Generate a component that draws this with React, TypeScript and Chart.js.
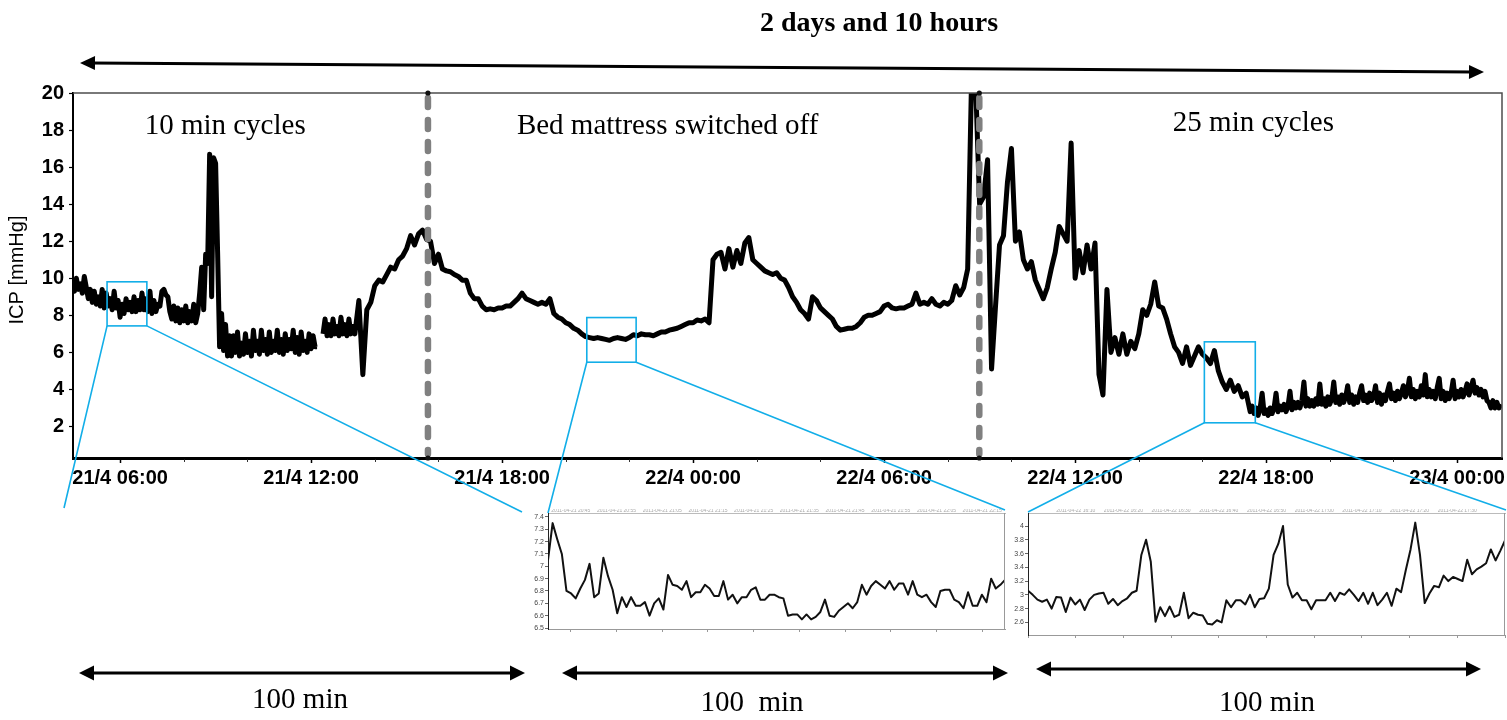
import React, { useEffect, useRef } from "react";
import { Chart, registerables } from "chart.js";

Chart.register(...registerables);

const PAGE_W = 1507;
const PAGE_H = 720;
const SANS = '"Liberation Sans", Arial, sans-serif';
const SERIF = '"Liberation Serif", "Times New Roman", serif';
Chart.defaults.font.family = SANS;

// ---------------- main ICP trace (hours after 21/4 00:00) ----------------
// segment A: 10 min cycles, sampled every 3.75 min
const icpSegAStart = 4.5;
const icpSegAStep = 0.0625;
const icpSegAValues = [
  9.6, 9.3, 10.0, 9.4, 9.7, 9.2, 10.1, 9.5, 8.9, 9.4, 8.7, 9.3, 8.6, 9.0, 8.5, 9.4,
  8.4, 9.2, 8.5, 8.9, 8.3, 9.3, 8.4, 8.8, 7.9, 8.6, 8.1, 8.9, 8.3, 8.7, 8.2, 9.0,
  8.2, 8.8, 8.3, 9.2, 8.3, 8.9, 8.2, 9.3, 8.1, 8.8, 8.2, 8.6, 8.5, 9.3, 9.4, 9.1,
  9.0, 8.2, 7.8, 8.5, 7.7, 8.4, 7.6, 8.3, 7.7, 8.5, 7.6, 8.2, 7.7, 8.6, 7.6, 8.1,
  9.2, 10.6, 8.3, 11.3, 10.8, 16.7, 9.0, 16.5, 16.2, 11.4, 6.3, 8.1, 6.1, 7.5, 5.8, 6.9,
  5.8, 6.9, 6.0, 7.1, 5.8, 6.5, 5.9, 7.0, 6.0, 6.6, 5.8, 7.2, 6.1, 6.6, 5.9, 7.2,
  6.1, 6.7, 5.9, 7.1, 6.0, 6.6, 6.1, 7.2, 6.0, 6.7, 5.9, 7.0, 6.1, 6.7, 6.2, 7.2,
  6.0, 6.8, 5.9, 7.1, 6.1, 6.6, 6.0, 7.0, 6.2, 6.9, 6.3, 6.3,
];
// (data gap 12.2 h – 12.37 h)
// segment B1: after the gap, still 10 min cycles
const icpSegB1Start = 12.375;
const icpSegB1Step = 0.0625;
const icpSegB1Values = [
  7.0, 7.8, 6.9, 7.5, 6.9, 7.8, 7.0, 7.4, 6.9, 7.9, 7.0, 7.5, 6.9, 7.8, 7.0, 7.4, 7.0,
];
// segment B2: mattress switched off and start of 25 min cycles, sampled every 7.5 min
const icpSegB2Start = 13.5;
const icpSegB2Step = 0.125;
const icpSegB2Values = [
  8.8, 4.8, 8.3, 8.7, 9.6, 9.9, 9.8, 10.2,
  10.6, 10.5, 11.0, 11.2, 11.6, 12.3, 11.8, 12.4,
  12.6, 12.1, 12.0, 10.8, 11.3, 10.5, 10.4, 10.35,
  10.2, 10.1, 9.9, 9.9, 9.2, 8.9, 8.9, 8.5,
  8.3, 8.35, 8.3, 8.4, 8.4, 8.5, 8.5, 8.7,
  8.9, 9.2, 8.9, 8.8, 8.7, 8.6, 8.7, 8.6,
  8.9, 8.1, 7.9, 7.8, 7.6, 7.5, 7.3, 7.2,
  7.0, 6.85, 6.8, 6.75, 6.8, 6.75, 6.7, 6.65,
  6.75, 6.8, 6.75, 6.7, 6.8, 6.95, 6.9, 7.0,
  6.95, 6.95, 6.9, 7.0, 7.1, 7.1, 7.2, 7.25,
  7.3, 7.4, 7.5, 7.6, 7.6, 7.75, 7.7, 7.8,
  7.6, 11.0, 11.3, 11.4, 10.5, 11.6, 10.6, 11.5,
  10.8, 11.9, 12.2, 11.0, 10.8, 10.6, 10.4, 10.3,
  10.2, 10.3, 10.0, 9.9, 9.5, 9.0, 8.7, 8.3,
  8.1, 7.8, 9.0, 8.8, 8.4, 8.2, 8.0, 7.8,
  7.4, 7.2, 7.25, 7.3, 7.3, 7.4, 7.6, 7.9,
  8.0, 8.0, 8.1, 8.2, 8.5, 8.6, 8.4, 8.35,
  8.4, 8.4, 8.5, 8.6, 9.2, 8.6, 8.7, 8.6,
  8.9, 8.6, 8.5, 8.7, 8.6, 8.8, 9.6, 9.1,
  9.5, 10.5, 21, 20.5, 14.0, 14.4, 16.4, 5.1,
  8.5, 11.8, 12.3, 15.2, 17.0, 12.0, 12.5, 11.0,
  10.5, 10.9, 9.9, 9.4, 8.9, 9.5, 10.5, 11.4,
  12.8, 12.4, 12.0, 17.3, 10.0, 11.5, 10.3, 11.8,
  10.5, 11.9, 4.8, 3.7, 9.4, 6.0, 6.8, 5.9,
  7.0, 5.9, 6.6, 6.2, 7.0, 8.3, 8.0, 8.6,
  9.8, 8.5, 8.4, 7.8, 7.0, 6.3, 6.0, 5.4,
  6.3, 5.3, 5.8, 6.3, 5.9, 5.7, 5.4, 6.1,
  5.0, 4.4, 4.0, 4.5, 3.9, 4.2, 3.6, 3.8,
];
// segment C: 25 min cycles at low ICP, sampled every 3.75 min
const icpSegCStart = 41.5;
const icpSegCStep = 0.0625;
const icpSegCValues = [
  2.8, 3.1, 2.7, 3.0, 2.6, 3.0, 3.8, 2.7, 2.9, 2.6, 3.0, 2.7, 3.0, 3.8, 2.8, 3.1,
  2.9, 3.2, 2.8, 3.1, 3.9, 2.9, 3.3, 3.0, 3.3, 3.0, 3.4, 4.4, 3.1, 3.5, 3.1, 3.4,
  3.1, 3.5, 3.2, 4.3, 3.2, 3.5, 3.1, 3.6, 3.2, 3.5, 4.4, 3.3, 3.6, 3.2, 3.7, 3.3,
  3.6, 4.2, 3.3, 3.7, 3.2, 3.6, 3.3, 3.8, 4.2, 3.4, 3.7, 3.3, 3.8, 3.4, 3.6, 4.2,
  3.3, 3.8, 3.2, 3.7, 3.4, 3.9, 4.3, 3.5, 3.8, 3.4, 3.9, 3.5, 3.8, 4.2, 3.6, 3.9,
  4.6, 3.6, 4.0, 3.5, 3.9, 3.6, 4.2, 3.7, 4.8, 3.6, 4.0, 3.6, 3.9, 3.5, 4.1, 4.6,
  3.5, 3.9, 3.4, 3.8, 3.5, 3.8, 4.5, 3.5, 3.9, 3.6, 4.0, 3.6, 3.9, 4.3, 3.7, 4.1,
  4.5, 3.8, 4.1, 3.7, 4.0, 3.6, 3.9, 3.4, 3.3, 3.0, 3.4, 3.0, 3.3, 3.0, 3.2,
];

const xAxisMinHour = 4.52;
const xAxisMaxHour = 49.41;
const xMajorHours = [6, 12, 18, 24, 30, 36, 42, 48];
const xMajorLabels = [
  "21/4 06:00", "21/4 12:00", "21/4 18:00", "22/4 00:00",
  "22/4 06:00", "22/4 12:00", "22/4 18:00", "23/4 00:00",
];
const xMinorHours = [8, 10, 14, 16, 20, 22, 26, 28, 32, 34, 38, 40, 44, 46];
const yAxisMin = 0.3;
const yAxisMax = 20;
const yTickValues = [2, 4, 6, 8, 10, 12, 14, 16, 18, 20];
const yAxisTitle = "ICP [mmHg]";

const phaseBoundaryHours = [15.67, 32.99];
const phaseLabels = ["10 min cycles", "Bed mattress switched off", "25 min cycles"];
const phaseLabelHours = [9.3, 23.2, 41.6];
const phaseLabelValues = [17.8, 17.8, 17.95];

const zoomBoxStartHours = [5.59, 20.66, 40.06];
const zoomBoxEndHours = [6.84, 22.21, 41.66];
const zoomBoxLowValues = [7.43, 5.47, 2.2];
const zoomBoxHighValues = [9.81, 7.88, 6.57];

const titleText = "2 days and 10 hours";
const spanLabels = ["100 min", "100  min", "100 min"];

// ---------------- inset 1 (bed mattress switched off) ----------------
const insetSpanMinutes = 100;
const inset1Values = [
  7.05, 7.35, 7.22, 7.1, 6.8, 6.78, 6.74, 6.82, 6.89, 7.02,
  6.75, 6.78, 7.07, 6.92, 6.81, 6.62, 6.75, 6.67, 6.75, 6.68,
  6.68, 6.71, 6.6, 6.7, 6.74, 6.65, 6.93, 6.85, 6.84, 6.81,
  6.88, 6.75, 6.79, 6.79, 6.85, 6.82, 6.76, 6.76, 6.88, 6.73,
  6.77, 6.7, 6.75, 6.75, 6.81, 6.83, 6.73, 6.73, 6.77, 6.77,
  6.75, 6.74, 6.6, 6.61, 6.61, 6.57, 6.61, 6.57, 6.59, 6.63,
  6.73, 6.6, 6.59, 6.64, 6.67, 6.7, 6.66, 6.71, 6.85, 6.77,
  6.84, 6.88, 6.85, 6.82, 6.88, 6.81, 6.86, 6.86, 6.77, 6.88,
  6.77, 6.75, 6.77, 6.71, 6.67, 6.8, 6.81, 6.81, 6.73, 6.71,
  6.66, 6.79, 6.68, 6.68, 6.77, 6.71, 6.9, 6.82, 6.85, 6.89,
];
const inset1YMin = 6.492;
const inset1YMax = 7.432;
const inset1YTicks = [6.5, 6.6, 6.7, 6.8, 6.9, 7.0, 7.1, 7.2, 7.3, 7.4];
const inset1TickMinutes = [5, 15, 25, 35, 45, 55, 65, 75, 85, 95];
const inset1TimeLabels = [
  "2011-04-21 20:45", "2011-04-21 20:55", "2011-04-21 21:05", "2011-04-21 21:15",
  "2011-04-21 21:25", "2011-04-21 21:35", "2011-04-21 21:45", "2011-04-21 21:55",
  "2011-04-21 22:05", "2011-04-21 22:15",
];

// ---------------- inset 2 (25 min cycles) ----------------
const inset2Values = [
  3.06, 3.0, 2.93, 2.9, 2.93, 2.8, 2.97, 2.96, 2.75, 2.96,
  2.86, 2.93, 2.78, 2.93, 3.0, 3.02, 3.03, 2.87, 2.94, 2.85,
  2.91, 2.95, 3.03, 3.06, 3.58, 3.8, 3.48, 2.61, 2.82, 2.69,
  2.83, 2.68, 2.71, 3.03, 2.66, 2.74, 2.71, 2.7, 2.58, 2.57,
  2.63, 2.6, 2.92, 2.82, 2.92, 2.92, 2.86, 3.0, 2.82, 2.94,
  2.95, 3.09, 3.58, 3.74, 4.0, 3.15, 2.96, 3.03, 2.92, 2.92,
  2.79, 2.92, 2.92, 2.92, 3.03, 2.91, 3.03, 3.0, 3.08, 3.0,
  2.91, 3.03, 2.87, 3.03, 2.85, 2.93, 3.03, 2.84, 3.09, 3.04,
  3.36, 3.66, 4.05, 3.58, 2.88, 3.02, 3.13, 3.11, 3.28, 3.2,
  3.26, 3.23, 3.2, 3.51, 3.3, 3.37, 3.41, 3.46, 3.66, 3.5,
  3.64, 3.79,
];
const inset2YMin = 2.416;
const inset2YMax = 4.19;
const inset2YTicks = [2.6, 2.8, 3.0, 3.2, 3.4, 3.6, 3.8, 4.0];
const inset2TickMinutes = [0, 10, 20, 30, 40, 50, 60, 70, 80, 90, 100];
const inset2LabelMinutes = [10, 20, 30, 40, 50, 60, 70, 80, 90];
const inset2TimeLabels = [
  "2011-04-22 16:10", "2011-04-22 16:20", "2011-04-22 16:30", "2011-04-22 16:40",
  "2011-04-22 16:50", "2011-04-22 17:00", "2011-04-22 17:10", "2011-04-22 17:20",
  "2011-04-22 17:30",
];

// ---------------- layout (pixels) ----------------
const MAIN_AREA = { left: 73, top: 93, right: 1502, bottom: 458 };
const INSET1_AREA = { left: 548, top: 513, right: 1005, bottom: 629 };
const INSET2_AREA = { left: 1028, top: 513, right: 1505, bottom: 635 };
const CONNECTOR_TARGETS = [
  [[64, 508], [522, 512]],
  [[548, 513], [1005, 510]],
  [[1028, 512], [1506, 510]],
];
const ZOOM_BLUE = "#12aee8";

function fmtNum(v: number) {
  return String(Math.round(v * 100) / 100);
}

function segmentPoints(start: number, step: number, values: number[]) {
  return values.map((v, i) => ({ x: start + i * step, y: v }));
}

function buildIcpPoints() {
  const a = segmentPoints(icpSegAStart, icpSegAStep, icpSegAValues);
  const lastA = a[a.length - 1].x;
  const gap = { x: (lastA + icpSegB1Start) / 2, y: null as any };
  return [
    ...a,
    gap,
    ...segmentPoints(icpSegB1Start, icpSegB1Step, icpSegB1Values),
    ...segmentPoints(icpSegB2Start, icpSegB2Step, icpSegB2Values),
    ...segmentPoints(icpSegCStart, icpSegCStep, icpSegCValues),
  ];
}

function doubleArrow(ctx: CanvasRenderingContext2D, x1: number, y1: number, x2: number, y2: number, lw: number, headLen: number, headHalf: number) {
  const ang = Math.atan2(y2 - y1, x2 - x1);
  const ux = Math.cos(ang);
  const uy = Math.sin(ang);
  ctx.strokeStyle = "#000";
  ctx.fillStyle = "#000";
  ctx.lineWidth = lw;
  ctx.lineCap = "butt";
  ctx.beginPath();
  ctx.moveTo(x1 + ux * headLen * 0.7, y1 + uy * headLen * 0.7);
  ctx.lineTo(x2 - ux * headLen * 0.7, y2 - uy * headLen * 0.7);
  ctx.stroke();
  const head = (tx: number, ty: number, dir: number) => {
    const bx = tx - dir * ux * headLen;
    const by = ty - dir * uy * headLen;
    ctx.beginPath();
    ctx.moveTo(tx, ty);
    ctx.lineTo(bx - uy * headHalf, by + ux * headHalf);
    ctx.lineTo(bx + uy * headHalf, by - ux * headHalf);
    ctx.closePath();
    ctx.fill();
  };
  head(x2, y2, 1);
  head(x1, y1, -1);
}

const mainDecorPlugin = {
  id: "mainDecor",
  afterDatasetsDraw(chart: any) {
    const { ctx, chartArea: ca, scales } = chart;
    const xs = scales.x;
    const ys = scales.y;
    ctx.save();
    ctx.strokeStyle = "#4d4d4d";
    ctx.lineWidth = 1.5;
    ctx.beginPath();
    ctx.moveTo(ca.left, ca.top);
    ctx.lineTo(ca.right, ca.top);
    ctx.lineTo(ca.right, ca.bottom);
    ctx.stroke();
    for (const h of phaseBoundaryHours) {
      const px = xs.getPixelForValue(h);
      ctx.setLineDash([9, 13]);
      ctx.lineCap = "round";
      ctx.lineWidth = 6.5;
      ctx.strokeStyle = "#808080";
      ctx.beginPath();
      ctx.moveTo(px, ca.top + 5);
      ctx.lineTo(px, ca.bottom - 4);
      ctx.stroke();
      ctx.setLineDash([]);
      ctx.fillStyle = "#111";
      for (const py of [ca.top, ca.bottom]) {
        ctx.beginPath();
        ctx.arc(px, py, 2.6, 0, Math.PI * 2);
        ctx.fill();
      }
    }
    ctx.fillStyle = "#000";
    ctx.font = `29px ${SERIF}`;
    ctx.textAlign = "center";
    ctx.textBaseline = "alphabetic";
    phaseLabels.forEach((t, i) => {
      ctx.fillText(t, xs.getPixelForValue(phaseLabelHours[i]), ys.getPixelForValue(phaseLabelValues[i]));
    });
    ctx.restore();
  },
  afterDraw(chart: any) {
    const { ctx, chartArea: ca, scales } = chart;
    const xs = scales.x;
    const ys = scales.y;
    ctx.save();
    ctx.strokeStyle = "#333";
    ctx.lineWidth = 1;
    for (const h of xMinorHours) {
      const px = Math.round(xs.getPixelForValue(h)) + 0.5;
      ctx.beginPath();
      ctx.moveTo(px, ca.bottom + 1.5);
      ctx.lineTo(px, ca.bottom + 4);
      ctx.stroke();
    }
    ctx.strokeStyle = ZOOM_BLUE;
    ctx.lineWidth = 1.6;
    zoomBoxStartHours.forEach((h0, i) => {
      const x0 = xs.getPixelForValue(h0);
      const x1 = xs.getPixelForValue(zoomBoxEndHours[i]);
      const yTop = ys.getPixelForValue(zoomBoxHighValues[i]);
      const yBot = ys.getPixelForValue(zoomBoxLowValues[i]);
      ctx.strokeRect(x0, yTop, x1 - x0, yBot - yTop);
      const [a, b] = CONNECTOR_TARGETS[i];
      ctx.beginPath();
      ctx.moveTo(x0, yBot);
      ctx.lineTo(a[0], a[1]);
      ctx.moveTo(x1, yBot);
      ctx.lineTo(b[0], b[1]);
      ctx.stroke();
    });
    ctx.save();
    ctx.translate(17, 270);
    ctx.rotate(-Math.PI / 2);
    ctx.fillStyle = "#000";
    ctx.font = `20px ${SANS}`;
    ctx.textAlign = "center";
    ctx.textBaseline = "middle";
    ctx.fillText(yAxisTitle, 0, 0);
    ctx.restore();
    ctx.fillStyle = "#000";
    ctx.font = `bold 28px ${SERIF}`;
    ctx.textAlign = "center";
    ctx.textBaseline = "alphabetic";
    ctx.fillText(titleText, 879, 31);
    doubleArrow(ctx, 80, 63, 1484, 72, 3, 15, 7);
    doubleArrow(ctx, 79, 673, 525, 673, 3, 15, 7.5);
    doubleArrow(ctx, 562, 673, 1008, 673, 3, 15, 7.5);
    doubleArrow(ctx, 1036, 669, 1481, 669, 3, 15, 7.5);
    ctx.fillStyle = "#000";
    ctx.font = `29px ${SERIF}`;
    ctx.textAlign = "center";
    ctx.fillText(spanLabels[0], 300, 708);
    ctx.fillText(spanLabels[1], 752, 711);
    ctx.fillText(spanLabels[2], 1267, 711);
    ctx.restore();
  },
};

const insetFramePlugin = {
  id: "insetFrame",
  afterDraw(chart: any) {
    const { ctx, chartArea: ca } = chart;
    ctx.save();
    ctx.strokeStyle = "#999";
    ctx.lineWidth = 1;
    ctx.beginPath();
    ctx.moveTo(ca.right - 0.5, ca.top);
    ctx.lineTo(ca.right - 0.5, ca.bottom);
    ctx.stroke();
    ctx.restore();
  },
};

function zeroHPad(s: any) {
  s.paddingLeft = 0;
  s.paddingRight = 0;
}
function zeroVPad(s: any) {
  s.paddingTop = 0;
  s.paddingBottom = 0;
}

function buildMainConfig(): any {
  return {
    type: "line",
    data: {
      datasets: [
        {
          data: buildIcpPoints(),
          borderColor: "#000",
          borderWidth: 5,
          pointRadius: 0,
          tension: 0,
          spanGaps: false,
          borderJoinStyle: "round",
        },
      ],
    },
    options: {
      responsive: false,
      animation: false,
      events: [],
      layout: { padding: { left: 42, top: 93, right: 5, bottom: 229 } },
      plugins: { legend: { display: false }, tooltip: { enabled: false } },
      scales: {
        x: {
          type: "linear",
          min: xAxisMinHour,
          max: xAxisMaxHour,
          afterBuildTicks: (s: any) => {
            s.ticks = xMajorHours.map((v) => ({ value: v }));
          },
          afterFit: zeroHPad,
          ticks: {
            autoSkip: false,
            maxRotation: 0,
            padding: 3,
            color: "#000",
            font: { family: SANS, size: 20, weight: "bold" },
            callback: (v: any) => {
              const k = xMajorHours.indexOf(Number(v));
              return k >= 0 ? xMajorLabels[k] : "";
            },
          },
          grid: { drawOnChartArea: false, drawTicks: true, tickLength: 5, tickWidth: 1.5, tickColor: "#000" },
          border: { display: true, color: "#000", width: 3 },
        },
        y: {
          type: "linear",
          min: yAxisMin,
          max: yAxisMax,
          afterBuildTicks: (s: any) => {
            s.ticks = yTickValues.map((v) => ({ value: v }));
          },
          afterFit: zeroVPad,
          ticks: {
            padding: 5,
            color: "#000",
            font: { family: SANS, size: 20, weight: "bold" },
            callback: (v: any) => fmtNum(Number(v)),
          },
          grid: { drawOnChartArea: false, drawTicks: true, tickLength: 4, tickWidth: 1.2, tickColor: "#000" },
          border: { display: true, color: "#000", width: 2, dash: [2, 2] },
        },
      },
    },
    plugins: [mainDecorPlugin],
  };
}

function buildInsetConfig(values: number[], yMin: number, yMax: number, yTicks: number[], tickMinutes: number[], labelMinutes: number[], labels: string[], area: any): any {
  const step = insetSpanMinutes / (values.length - 1);
  return {
    type: "line",
    data: {
      datasets: [
        {
          data: values.map((v, i) => ({ x: i * step, y: v })),
          borderColor: "#111",
          borderWidth: 2,
          pointRadius: 0,
          tension: 0,
          borderJoinStyle: "round",
        },
      ],
    },
    options: {
      responsive: false,
      animation: false,
      events: [],
      layout: {
        padding: { left: area.left - 20, top: area.top - 6, right: PAGE_W - area.right, bottom: PAGE_H - area.bottom - 3 },
      },
      plugins: { legend: { display: false }, tooltip: { enabled: false } },
      scales: {
        x: {
          type: "linear",
          position: "bottom",
          min: 0,
          max: insetSpanMinutes,
          afterBuildTicks: (s: any) => {
            s.ticks = tickMinutes.map((v) => ({ value: v }));
          },
          afterFit: zeroHPad,
          ticks: { display: false },
          grid: { drawOnChartArea: false, drawTicks: true, tickLength: 3, tickWidth: 1, tickColor: "#999" },
          border: { display: true, color: "#999", width: 1 },
        },
        xTop: {
          type: "linear",
          position: "top",
          min: 0,
          max: insetSpanMinutes,
          afterBuildTicks: (s: any) => {
            s.ticks = labelMinutes.map((v) => ({ value: v }));
          },
          afterFit: zeroHPad,
          ticks: {
            autoSkip: false,
            maxRotation: 0,
            padding: -1,
            color: "#aaa",
            font: { family: SANS, size: 5 },
            callback: (v: any) => {
              const k = labelMinutes.indexOf(Number(v));
              return k >= 0 ? labels[k] : "";
            },
          },
          grid: { drawOnChartArea: false, drawTicks: false },
          border: { display: true, color: "#bbb", width: 1 },
        },
        y: {
          type: "linear",
          min: yMin,
          max: yMax,
          afterBuildTicks: (s: any) => {
            s.ticks = yTicks.map((v) => ({ value: v }));
          },
          afterFit: zeroVPad,
          ticks: {
            padding: 1,
            color: "#444",
            font: { family: SANS, size: 7 },
            callback: (v: any) => fmtNum(Number(v)),
          },
          grid: { drawOnChartArea: false, drawTicks: true, tickLength: 3, tickWidth: 1, tickColor: "#666" },
          border: { display: true, color: "#222", width: 1 },
        },
      },
    },
    plugins: [insetFramePlugin],
  };
}

function placeChart(canvas: HTMLCanvasElement, config: any, target: any) {
  const chart: any = new Chart(canvas, config);
  const pad = { ...config.options.layout.padding };
  for (let k = 0; k < 4; k++) {
    const ca = chart.chartArea;
    if (!ca) break;
    const dl = target.left - ca.left;
    const dt = target.top - ca.top;
    const dr = ca.right - target.right;
    const db = ca.bottom - target.bottom;
    if (Math.abs(dl) < 0.25 && Math.abs(dt) < 0.25 && Math.abs(dr) < 0.25 && Math.abs(db) < 0.25) break;
    pad.left += dl;
    pad.top += dt;
    pad.right += dr;
    pad.bottom += db;
    chart.options.layout.padding = { ...pad };
    chart.update();
  }
  return chart;
}

export default function App() {
  const mainRef = useRef<HTMLCanvasElement>(null);
  const in1Ref = useRef<HTMLCanvasElement>(null);
  const in2Ref = useRef<HTMLCanvasElement>(null);

  useEffect(() => {
    const charts = [
      placeChart(mainRef.current!, buildMainConfig(), MAIN_AREA),
      placeChart(
        in1Ref.current!,
        buildInsetConfig(inset1Values, inset1YMin, inset1YMax, inset1YTicks, inset1TickMinutes, inset1TickMinutes, inset1TimeLabels, INSET1_AREA),
        INSET1_AREA
      ),
      placeChart(
        in2Ref.current!,
        buildInsetConfig(inset2Values, inset2YMin, inset2YMax, inset2YTicks, inset2TickMinutes, inset2LabelMinutes, inset2TimeLabels, INSET2_AREA),
        INSET2_AREA
      ),
    ];
    return () => charts.forEach((c) => c.destroy());
  }, []);

  const cs: React.CSSProperties = { position: "absolute", left: 0, top: 0, width: PAGE_W, height: PAGE_H };
  return (
    <div style={{ position: "fixed", left: 0, top: 0, width: PAGE_W, height: PAGE_H, background: "#fff", overflow: "hidden" }}>
      <canvas ref={mainRef} width={PAGE_W} height={PAGE_H} style={cs} />
      <canvas ref={in1Ref} width={PAGE_W} height={PAGE_H} style={cs} />
      <canvas ref={in2Ref} width={PAGE_W} height={PAGE_H} style={cs} />
    </div>
  );
}
